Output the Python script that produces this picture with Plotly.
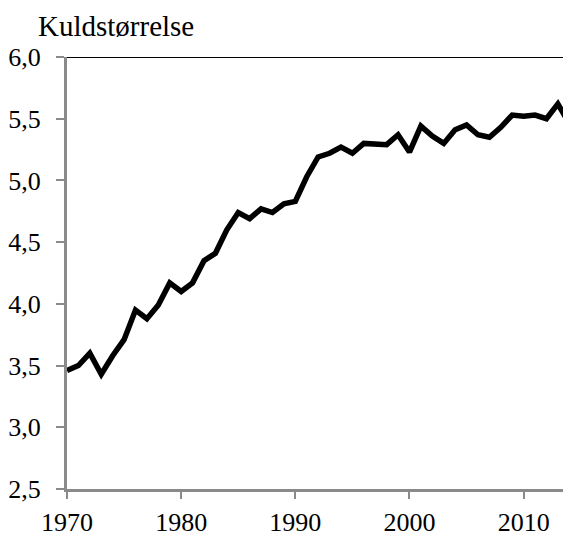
import plotly.graph_objects as go

years = list(range(1970, 2015))
litter_size = [3.46, 3.50, 3.60, 3.43, 3.58, 3.71, 3.95, 3.88, 3.99, 4.17,
               4.10, 4.17, 4.35, 4.41, 4.60, 4.74, 4.69, 4.77, 4.74, 4.81,
               4.83, 5.03, 5.19, 5.22, 5.27, 5.22, 5.30, 5.29, 5.29, 5.37,
               5.23, 5.44, 5.36, 5.30, 5.41, 5.45, 5.37, 5.35, 5.43, 5.53,
               5.52, 5.53, 5.50, 5.62, 5.46]
y_ticks = [2.5, 3.0, 3.5, 4.0, 4.5, 5.0, 5.5, 6.0]
y_tick_labels = ["2,5", "3,0", "3,5", "4,0", "4,5", "5,0", "5,5", "6,0"]
x_ticks = [1970, 1980, 1990, 2000, 2010]
title_text = "Kuldstørrelse"

font_family = "Liberation Serif, Times New Roman, serif"
axis_grey = "#8a8a8a"

# page body has an 8px margin; size the figure so it fills the window
W, H, OFF = 563, 529, 8

fig = go.Figure()
fig.add_trace(go.Scatter(
    x=years, y=litter_size, mode="lines",
    line=dict(color="black", width=5.5),
    showlegend=False, hoverinfo="skip",
))

fig.add_shape(type="line", xref="paper", yref="y", x0=0, x1=1,
              y0=6.0, y1=6.0, line=dict(color="black", width=2))

fig.update_layout(
    width=W, height=H,
    margin=dict(l=66 - OFF, r=0, t=57 - OFF, b=43),
    paper_bgcolor="white", plot_bgcolor="white",
    font=dict(family=font_family, size=26, color="black"),
    title=dict(text=title_text, xref="container", yref="container",
               x=(38 - OFF) / W, xanchor="left", y=1 - (26 - OFF) / H, yanchor="middle",
               font=dict(family=font_family, size=29, color="black")),
    xaxis=dict(range=[1970, 2014.15], tickvals=x_ticks,
               ticktext=[str(v) for v in x_ticks],
               showgrid=False, zeroline=False,
               showline=True, linecolor=axis_grey, linewidth=3,
               ticks="outside", ticklen=7, tickwidth=2, tickcolor=axis_grey,
               ticklabelstandoff=1),
    yaxis=dict(range=[2.5, 6.0], tickvals=y_ticks, ticktext=y_tick_labels,
               showgrid=False, zeroline=False,
               showline=True, linecolor=axis_grey, linewidth=3,
               ticks="outside", ticklen=8, tickwidth=2, tickcolor=axis_grey,
               ticklabelstandoff=10),
)

fig.write_html("out.html")
